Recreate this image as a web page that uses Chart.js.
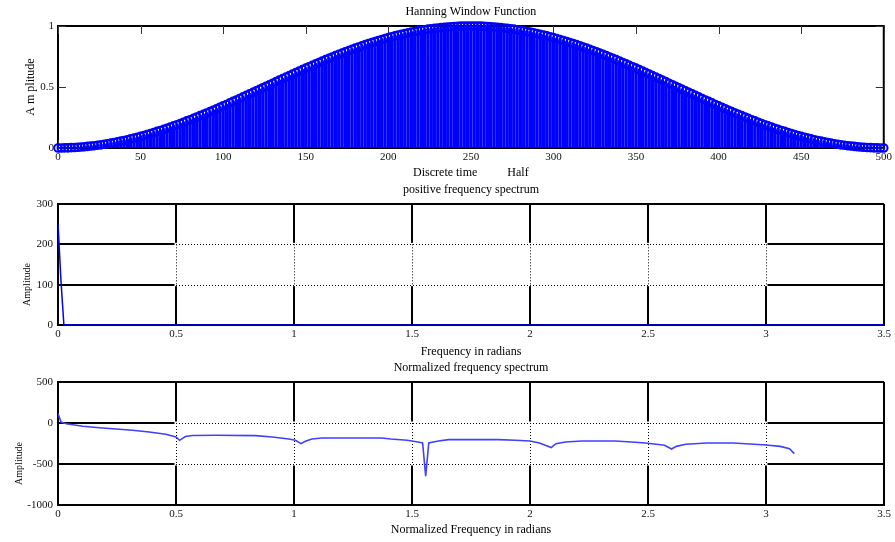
<!DOCTYPE html>
<html><head><meta charset="utf-8">
<script src="https://cdn.jsdelivr.net/npm/chart.js@4/dist/chart.umd.min.js"></script>
<style>
html,body{margin:0;padding:0;background:#fff;}
#wrap{position:relative;width:895px;height:542px;overflow:hidden;background:#fff;}
canvas{position:absolute;left:0;}
</style></head><body>
<div id="wrap">
<canvas id="c1" width="895" height="180" style="top:0px"></canvas>
<canvas id="c2" width="895" height="180" style="top:180px"></canvas>
<canvas id="c3" width="895" height="182" style="top:360px"></canvas>
</div>
<script>
// ---- Hanning window samples (every 2nd discrete time sample, n = 0,2,...,500) ----
const hannAmp = [
0.000,0.000,0.001,0.001,0.003,0.004,0.006,0.008,0.010,0.013,
0.016,0.019,0.023,0.026,0.031,0.035,0.040,0.045,0.050,0.056,
0.062,0.068,0.075,0.081,0.088,0.095,0.103,0.111,0.119,0.127,
0.136,0.144,0.153,0.162,0.172,0.181,0.191,0.201,0.211,0.222,
0.232,0.243,0.254,0.265,0.276,0.287,0.299,0.310,0.322,0.334,
0.345,0.357,0.370,0.382,0.394,0.406,0.419,0.431,0.444,0.456,
0.469,0.481,0.494,0.506,0.519,0.531,0.544,0.556,0.569,0.581,
0.594,0.606,0.618,0.630,0.643,0.655,0.666,0.678,0.690,0.701,
0.713,0.724,0.735,0.746,0.757,0.768,0.778,0.789,0.799,0.809,
0.819,0.828,0.838,0.847,0.856,0.864,0.873,0.881,0.889,0.897,
0.905,0.912,0.919,0.926,0.932,0.938,0.944,0.950,0.955,0.960,
0.965,0.969,0.974,0.977,0.981,0.984,0.987,0.990,0.992,0.994,
0.996,0.997,0.999,0.999,1.000,1.000,
1.000,0.999,0.999,0.997,0.996,0.994,0.992,0.990,0.987,0.984,
0.981,0.977,0.974,0.969,0.965,0.960,0.955,0.950,0.944,0.938,
0.932,0.926,0.919,0.912,0.905,
0.897,0.889,0.881,0.873,0.864,0.856,0.847,0.838,0.828,0.819,
0.809,0.799,0.789,0.778,0.768,0.757,0.746,0.735,0.724,0.713,
0.701,0.690,0.678,0.666,0.655,0.643,0.630,0.618,0.606,0.594,
0.581,0.569,0.556,0.544,0.531,0.519,0.506,0.494,0.481,0.469,
0.456,0.444,0.431,0.419,0.406,0.394,0.382,0.370,0.357,0.345,
0.334,0.322,0.310,0.299,0.287,0.276,0.265,0.254,0.243,0.232,
0.222,0.211,0.201,0.191,0.181,0.172,0.162,0.153,0.144,0.136,
0.127,0.119,0.111,0.103,0.095,0.088,0.081,0.075,0.068,0.062,
0.056,0.050,0.045,0.040,0.035,0.031,0.026,0.023,0.019,0.016,
0.013,0.010,0.008,0.006,0.004,0.003,0.001,0.001,0.000,0.000
];
const hannSampleStep = 2;
const hannIndex = hannAmp.map((_, i) => i * hannSampleStep);

// ---- Half positive frequency spectrum ----
const specFreq = [0, 0.0125, 0.025, 3.5];
const specAmp  = [252, 110, 0, 0];

// ---- Normalized frequency spectrum ----
const normFreq = [0,0.013,0.035,0.105,0.175,0.316,0.386,0.457,0.5,0.515,
  0.54,0.57,0.668,0.837,0.908,0.978,1.006,1.03,1.048,1.076,
  1.118,1.372,1.41,1.48,1.525,1.545,1.558,1.571,1.612,1.655,
  1.866,1.937,2.0,2.04,2.09,2.11,2.15,2.22,2.36,2.43,
  2.49,2.57,2.60,2.62,2.66,2.75,2.86,2.95,3.0,3.06,
  3.10,3.12];
const normAmp = [115,12,-10,-40,-57,-89,-110,-138,-171,-211,
  -165,-152,-150,-154,-171,-195,-211,-252,-223,-195,
  -183,-183,-195,-211,-232,-244,-650,-244,-219,-203,
  -203,-211,-219,-244,-300,-252,-232,-219,-219,-232,
  -244,-272,-317,-285,-260,-244,-244,-260,-268,-285,
  -313,-374];

// ---- tick settings ----
const hannTicksX = {min:0, max:500, step:50};
const hannTicksY = {min:0, max:1, step:0.5};
const specTicksX = {min:0, max:3.5, step:0.5};
const specTicksY = {min:0, max:300, step:100};
const normTicksY = {min:-1000, max:500, step:500};

Chart.defaults.font.family = "'Liberation Serif','Times New Roman',serif";
Chart.defaults.color = '#000';

const FONT_T = {size:12, weight:'normal'};
const FONT_K = {size:11, weight:'normal'};

// box + inward tick marks (MATLAB style) for the top plot
const boxTicks = {
  id:'boxTicks',
  beforeDatasetsDraw(chart, args, opts){
    if(!opts || !opts.enabled) return;
    const {ctx, chartArea:a, scales:{x,y}} = chart;
    ctx.save();
    ctx.strokeStyle = '#000'; ctx.lineWidth = 2;
    ctx.strokeRect(a.left, a.top, a.right-a.left, a.bottom-a.top);
    ctx.lineWidth = 1; ctx.strokeStyle = '#333';
    ctx.beginPath();
    x.ticks.forEach(t=>{
      const p = Math.round(x.getPixelForValue(t.value))+0.5;
      ctx.moveTo(p,a.top); ctx.lineTo(p,a.top+8);
      ctx.moveTo(p,a.bottom); ctx.lineTo(p,a.bottom-8);
    });
    y.ticks.forEach(t=>{
      const p = Math.round(y.getPixelForValue(t.value))+0.5;
      ctx.moveTo(a.left,p); ctx.lineTo(a.left+8,p);
      ctx.moveTo(a.right,p); ctx.lineTo(a.right-8,p);
    });
    ctx.stroke();
    ctx.restore();
  }
};

// region where the grid is drawn dotted instead of solid
const dottedPatch = {
  id:'dottedPatch',
  beforeDatasetsDraw(chart, args, opts){
    if(!opts || !opts.region) return;
    const r = opts.region;
    const {ctx, scales:{x,y}} = chart;
    const X0 = x.getPixelForValue(r.x0), X1 = x.getPixelForValue(r.x1);
    const YT = y.getPixelForValue(r.y1), YB = y.getPixelForValue(r.y0);
    ctx.save();
    ctx.fillStyle = '#fff';
    ctx.fillRect(X0-1.5, YT-1.5, X1-X0+3, YB-YT+3);
    ctx.strokeStyle = '#000'; ctx.lineWidth = 1; ctx.setLineDash([1,2]);
    ctx.beginPath();
    y.ticks.forEach(t=>{
      if(t.value < r.y0 || t.value > r.y1) return;
      const p = Math.round(y.getPixelForValue(t.value))+0.5;
      ctx.moveTo(X0,p); ctx.lineTo(X1,p);
    });
    x.ticks.forEach(t=>{
      if(t.value < r.x0 || t.value > r.x1) return;
      const p = Math.round(x.getPixelForValue(t.value))+0.5;
      ctx.moveTo(p,YT); ctx.lineTo(p,YB);
    });
    ctx.stroke();
    ctx.restore();
  }
};

function fmt(v){ return String(v); }

// ---------- Chart 1 : Hanning window (stem plot) ----------
const hannPts = hannIndex.map((n,i)=>({x:n, y:hannAmp[i]}));
new Chart(document.getElementById('c1'), {
  type:'scatter',
  data:{datasets:[
    {type:'bar', data:hannPts, backgroundColor:'#0000ff', barThickness:2.7, order:2},
    {type:'scatter', data:hannPts, pointStyle:'circle', pointRadius:3.8, pointBorderWidth:2,
     borderColor:'#0000ff', pointBorderColor:'#0000ff', pointBackgroundColor:'rgba(0,0,0,0)',
     backgroundColor:'rgba(0,0,0,0)', showLine:false, clip:false, order:1}
  ]},
  plugins:[boxTicks],
  options:{
    responsive:false, animation:false, devicePixelRatio:1,
    layout:{padding:{left:0, right:11, top:0, bottom:0}},
    plugins:{
      legend:{display:false}, tooltip:{enabled:false},
      title:{display:true, text:'Hanning Window Function', fullSize:false, font:FONT_T, color:'#000', padding:{top:5, bottom:6.6}},
      boxTicks:{enabled:true}
    },
    scales:{
      x:{type:'linear', offset:false, min:hannTicksX.min, max:hannTicksX.max,
         ticks:{stepSize:hannTicksX.step, font:FONT_K, color:'#111', padding:3, callback:fmt, maxRotation:0, autoSkip:false},
         grid:{display:false, drawTicks:false, offset:false}, border:{display:false},
         title:{display:true, text:'Discrete time          Half', font:FONT_T, color:'#000', padding:{top:0,bottom:0}},
         afterFit(s){ s.height = 32; }},
      y:{type:'linear', min:hannTicksY.min, max:hannTicksY.max,
         ticks:{stepSize:hannTicksY.step, font:FONT_K, color:'#111', padding:4, callback:fmt},
         grid:{display:false, drawTicks:false}, border:{display:false},
         title:{display:true, text:'A m plitude', font:FONT_T, color:'#000', padding:{top:24,bottom:0}},
         afterFit(s){ s.width = 58; }}
    }
  }
});

// shared grid style for spectrum plots
function specScales(yT, yTitlePad, xTitle, xHeight, xTitlePadB, yTitleText){
  return {
    x:{type:'linear', min:specTicksX.min, max:specTicksX.max,
       ticks:{stepSize:specTicksX.step, font:FONT_K, color:'#111', padding:3, callback:fmt, maxRotation:0, autoSkip:false},
       grid:{color:'#000', lineWidth:2, drawTicks:false},
       border:{display:true, color:'#000', width:2},
       title:{display:true, text:xTitle, font:FONT_T, color:'#000', padding:{top:0,bottom:xTitlePadB}},
       afterFit(s){ s.height = xHeight; }},
    y:{type:'linear', min:yT.min, max:yT.max,
       ticks:{stepSize:yT.step, font:FONT_K, color:'#111', padding:5, callback:fmt},
       grid:{color:'#000', lineWidth:2, drawTicks:false},
       border:{display:true, color:'#000', width:2},
       title:{display:true, text:yTitleText, font:{size:10, weight:'normal'}, color:'#000', padding:{top:yTitlePad,bottom:0}},
       afterFit(s){ s.width = 58; }}
  };
}

// ---------- Chart 2 : half positive frequency spectrum ----------
new Chart(document.getElementById('c2'), {
  type:'line',
  data:{datasets:[{data:specFreq.map((f,i)=>({x:f,y:specAmp[i]})), borderColor:'#0000ff', borderWidth:1.5, pointRadius:0, tension:0, fill:false}]},
  plugins:[dottedPatch],
  options:{
    responsive:false, animation:false, devicePixelRatio:1,
    layout:{padding:{left:0, right:11, top:0, bottom:0}},
    plugins:{
      legend:{display:false}, tooltip:{enabled:false},
      title:{display:true, text:'positive frequency spectrum', fullSize:false, font:FONT_T, color:'#000', padding:{top:2.8, bottom:6.8}},
      dottedPatch:{region:{x0:0.5, x1:3, y0:100, y1:200}}
    },
    scales: specScales(specTicksY, 21, 'Frequency in radians', 35, 1, 'Amplitude                ')
  }
});

// ---------- Chart 3 : normalized frequency spectrum ----------
new Chart(document.getElementById('c3'), {
  type:'line',
  data:{datasets:[{data:normFreq.map((f,i)=>({x:f,y:normAmp[i]})), borderColor:'#4040ff', borderWidth:1.6, pointRadius:0, tension:0, fill:false}]},
  plugins:[dottedPatch],
  options:{
    responsive:false, animation:false, devicePixelRatio:1,
    layout:{padding:{left:0, right:11, top:0, bottom:0}},
    plugins:{
      legend:{display:false}, tooltip:{enabled:false},
      title:{display:true, text:'Normalized frequency spectrum', fullSize:false, font:FONT_T, color:'#000', padding:{top:0.8, bottom:6.8}},
      dottedPatch:{region:{x0:0.5, x1:3, y0:-500, y1:0}}
    },
    scales: specScales(normTicksY, 13, 'Normalized Frequency in radians', 37, 5, 'Amplitude                ')
  }
});
</script>
</body></html>
